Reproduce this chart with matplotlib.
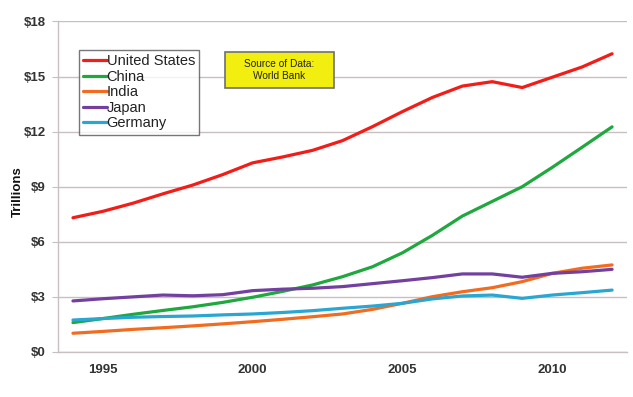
import matplotlib
matplotlib.use("Agg")
import matplotlib.pyplot as plt
from matplotlib.ticker import FixedLocator
from matplotlib.patches import Rectangle

years = list(range(1994, 2013))

us      = [7.31, 7.66, 8.10, 8.61, 9.09, 9.66, 10.30, 10.62, 10.98, 11.51,
           12.27, 13.09, 13.86, 14.48, 14.72, 14.40, 14.96, 15.52, 16.24]
china   = [1.60, 1.82, 2.05, 2.26, 2.46, 2.70, 2.98, 3.30, 3.65, 4.10,
           4.64, 5.40, 6.35, 7.40, 8.20, 9.00, 10.05, 11.15, 12.26]
india   = [1.02, 1.12, 1.23, 1.32, 1.42, 1.53, 1.65, 1.78, 1.92, 2.07,
           2.32, 2.65, 3.01, 3.28, 3.50, 3.83, 4.28, 4.56, 4.74]
japan   = [2.78, 2.90, 3.00, 3.10, 3.06, 3.12, 3.34, 3.42, 3.47, 3.56,
           3.72, 3.88, 4.05, 4.25, 4.25, 4.07, 4.28, 4.37, 4.50]
germany = [1.74, 1.82, 1.89, 1.93, 1.96, 2.02, 2.07, 2.15, 2.25, 2.38,
           2.50, 2.65, 2.89, 3.05, 3.10, 2.92, 3.10, 3.23, 3.37]

series = [("United States", us, "#f41c17"),
          ("China", china, "#1fa83e"),
          ("India", india, "#f26b1f"),
          ("Japan", japan, "#7340a0"),
          ("Germany", germany, "#2aa6d2")]

y_ticks = [0, 3, 6, 9, 12, 15, 18]
y_labels = ["$0", "$3", "$6", "$9", "$12", "$15", "$18"]
x_ticks = [1995, 2000, 2005, 2010]

plt.rcParams['font.family'] = ['Liberation Sans', 'DejaVu Sans']

fig = plt.figure(figsize=(6.33, 3.97), dpi=100)
ax = fig.add_axes([0.0916, 0.1134, 0.899, 0.8326])

for name, vals, col in series:
    ax.plot(years, vals, color=col, lw=2.3, label=name, solid_capstyle='round')

ax.set_xlim(1993.5, 2012.5)
ax.set_ylim(0, 18)
ax.yaxis.set_major_locator(FixedLocator(y_ticks))
ax.set_yticklabels(y_labels)
ax.set_xticks(x_ticks)
ax.grid(axis='y', color='#c8c0c0', lw=1.0)
ax.set_axisbelow(True)

for s in ['top', 'right']:
    ax.spines[s].set_visible(False)
for s in ['left', 'bottom']:
    ax.spines[s].set_color('#c8c0c0')
    ax.spines[s].set_linewidth(1.0)

ax.tick_params(axis='y', length=4, color='#c8c0c0', pad=5)
ax.tick_params(axis='x', length=0, pad=9)
for lab in ax.get_yticklabels() + ax.get_xticklabels():
    lab.set_fontsize(9.5)
    lab.set_fontweight('bold')
    lab.set_color('#333333')

ax.set_ylabel("Trillions", fontsize=9.5, fontweight='bold', color='#111111')
ax.yaxis.set_label_coords(-0.06, 0.485)

leg = ax.legend(loc='upper left', bbox_to_anchor=(0.037, 0.9135), frameon=True,
                fancybox=False, fontsize=10.5, handlelength=1.6, handletextpad=0.0,
                borderpad=0.3, labelspacing=0.1, borderaxespad=0)
leg.get_frame().set_edgecolor('#555555')
leg.get_frame().set_linewidth(1.0)
for t in leg.get_texts():
    t.set_color('#222222')

ax.add_patch(Rectangle((0.2935, 0.7985), 0.1916, 0.1089, transform=ax.transAxes,
                       facecolor='#f2ee10', edgecolor='#707070', lw=1.2, zorder=5))
ax.text(0.389, 0.853, "Source of Data:\nWorld Bank", transform=ax.transAxes,
        ha='center', va='center', fontsize=7.3, color='#222222',
        linespacing=1.35, zorder=6)

fig.savefig("out.png", dpi=100)
